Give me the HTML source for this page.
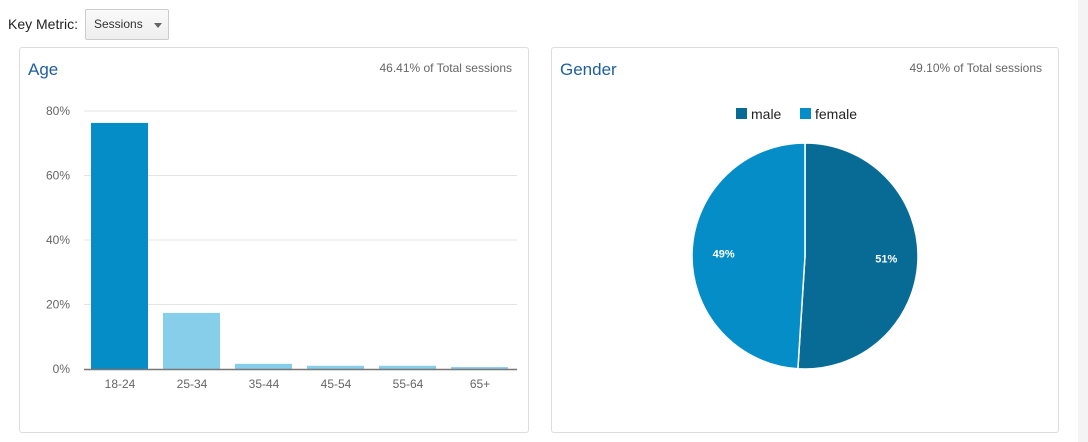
<!DOCTYPE html>
<html><head><meta charset="utf-8"><style>
body{margin:0;width:1088px;height:442px;background:#fff;font-family:"Liberation Sans",Arial,sans-serif;position:relative;overflow:hidden}
.abs{position:absolute}
.panel{position:absolute;border:1px solid #ddd;border-radius:3px;background:#fff}
.title{position:absolute;font-size:17px;color:#1f5e9e}
.sub{position:absolute;font-size:12px;color:#666}
</style></head><body>
<div class="abs" style="left:8px;top:16px;font-size:14px;color:#222">Key Metric:</div>
<div class="abs" style="left:85px;top:9px;width:84px;height:31px;border:1px solid #ccc;border-radius:2px;background:linear-gradient(#fafafa,#eee);box-sizing:border-box;font-size:12px;color:#333;line-height:29px;padding-left:8px">Sessions<span style="position:absolute;left:68px;top:13px;width:0;height:0;border-left:4px solid transparent;border-right:4px solid transparent;border-top:5px solid #666"></span></div>
<div class="abs" style="left:1078px;top:0;width:10px;height:442px;background:#f4f4f4"></div>

<div class="panel" style="left:19px;top:47px;width:508px;height:384px">
<div class="title" style="left:8px;top:12px">Age</div>
<div class="sub" style="right:16px;top:13px">46.41% of Total sessions</div>
</div>
<svg class="abs" style="left:0;top:0" width="540" height="442" id="age"></svg>

<div class="panel" style="left:551px;top:47px;width:506px;height:384px">
<div class="title" style="left:8px;top:12px">Gender</div>
<div class="sub" style="right:16px;top:13px">49.10% of Total sessions</div>
</div>
<svg class="abs" style="left:0;top:0" width="1088" height="442" id="gen" pointer-events="none"></svg>
<script>
const ageCats=["18-24","25-34","35-44","45-54","55-64","65+"];
const ageVals=[76.3,17.4,1.6,1.0,1.0,0.6];
const yTicks=[0,20,40,60,80];
const genderCats=["male","female"];
const genderVals=[51,49];
const NS="http://www.w3.org/2000/svg";
function mk(p,t,a,txt){const e=document.createElementNS(NS,t);for(const k in a)e.setAttribute(k,a[k]);if(txt!=null)e.textContent=txt;p.appendChild(e);return e;}
const age=document.getElementById('age');
const x0=84,x1=517,y0=369,pxPer=258/80,bw=72;
const y=v=>y0-v*pxPer;
yTicks.forEach(t=>{
  if(t>0){const g=mk(age,'line',{x1:x0,x2:x1,y1:y(t),y2:y(t),stroke:'#e4e4e4'});}
  const l=mk(age,'text',{x:70,y:y(t)+4,'text-anchor':'end','font-size':12,fill:'#666','font-family':'Liberation Sans'},t+'%');
  
});
ageCats.forEach((c,i)=>{
  const r=mk(age,'rect',{x:x0+i*bw+7,y:y(ageVals[i]),width:57,height:ageVals[i]*pxPer,fill:i==0?'#058dc7':'#87ceeb'});
  
  const l=mk(age,'text',{x:x0+i*bw+36,y:388,'text-anchor':'middle','font-size':12,fill:'#666','font-family':'Liberation Sans'},c);
  
});
const ax=mk(age,'line',{x1:x0,x2:x1,y1:y0+0.5,y2:y0+0.5,stroke:'#777','stroke-width':1.5});


const gen=document.getElementById('gen');
const cx=805,cy=256,R=113,cols=['#076b96','#058dc7'];
const tot=genderVals.reduce((a,b)=>a+b,0);let a0=0;
genderVals.forEach((v,i)=>{
  const a1=a0+v/tot*2*Math.PI;
  const p=(a)=>[cx+R*Math.sin(a),cy-R*Math.cos(a)];
  const [sx,sy]=p(a0),[ex,ey]=p(a1);
  const s=mk(gen,'path',{d:`M${cx},${cy}L${sx},${sy}A${R},${R} 0 ${a1-a0>Math.PI?1:0} 1 ${ex},${ey}Z`,fill:cols[i],stroke:'#fff','stroke-width':1.5});
  
  const m=(a0+a1)/2;
  const t=mk(gen,'text',{x:cx+R*0.72*Math.sin(m),y:cy-R*0.72*Math.cos(m)+4,'text-anchor':'middle','font-size':11,'font-weight':'bold',fill:'#fff','font-family':'Liberation Sans'},v+'%');
  
  a0=a1;
});
const lx=[736,800];
genderCats.forEach((c,i)=>{
  const r=mk(gen,'rect',{x:lx[i],y:108,width:11,height:11,fill:cols[i]});
  
  const t=mk(gen,'text',{x:lx[i]+15,y:119,'font-size':14,fill:'#222','font-family':'Liberation Sans'},c);
  
});
</script>
</body></html>
